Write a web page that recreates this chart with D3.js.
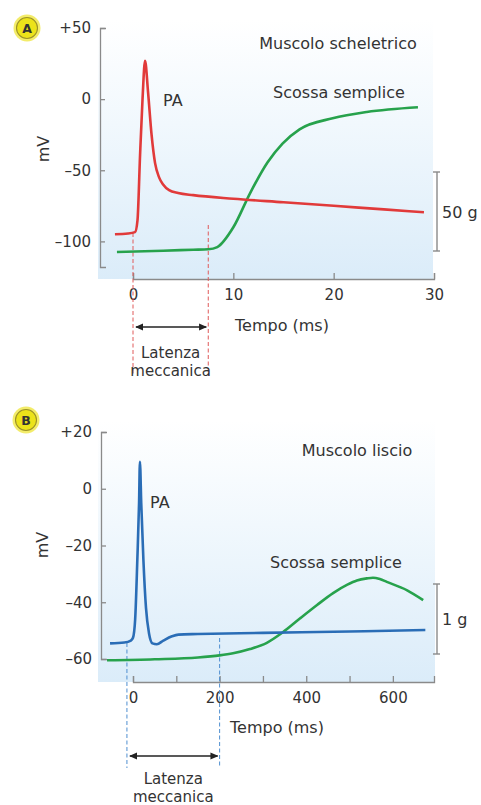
<!DOCTYPE html>
<html><head><meta charset="utf-8">
<script src="https://cdn.jsdelivr.net/npm/d3@7/dist/d3.min.js"></script>
<style>
html,body{margin:0;padding:0;background:#fff;}
svg{display:block;}
text{font-family:"DejaVu Sans",sans-serif;fill:#333;}
</style></head>
<body>
<svg id="chart" width="481" height="805"></svg>
<script>
// ---------- DATA ----------
// Panel A: skeletal muscle (time in ms, potential in mV, force in g)
const apA_time = [-1.8, -0.5, 0.2, 0.45, 0.7, 0.95, 1.2, 1.5, 1.85, 2.2, 2.6, 3.0, 3.6, 4.5, 6, 10, 15, 20, 25, 29];
const apA_mV   = [-95, -94.5, -93.5, -85, -40, 0, 27, 5, -25, -45, -55, -60, -64, -66, -67.5, -70, -72.5, -75, -77.5, -79.5];
const twA_time = [-1.6, 3, 6, 7.5, 8.4, 10.0, 11.7, 13.4, 14.9, 16.6, 19.9, 23.3, 28.4];
const twA_g    = [-0.6, 0.2, 0.8, 1.1, 2.5, 15, 37, 56, 68, 77, 84, 88, 91];
const xTicksA = [0, 10, 20, 30];
const yTicksA = [50, 0, -50, -100];
const latencyA = [0, 7.5];
const scaleBarA = [0, 50];

// Panel B: smooth muscle
const apB_time = [-53, -20, -5, 0, 5, 10, 14, 16, 19, 24, 30, 37, 45, 55, 70, 90, 105, 150, 300, 500, 675];
const apB_mV   = [-54.5, -54.2, -53.5, -52.5, -46, -25, -5, 9.5, -5, -25, -42, -51, -54.5, -54.8, -53.5, -52, -51.4, -51.2, -50.8, -50.3, -49.8];
const twB_time = [-60, 50, 150, 200, 231, 270, 309, 346, 386, 425, 462, 495, 517, 540, 554, 570, 586, 633, 670];
const twB_g    = [-0.09, -0.075, -0.05, -0.02, 0.01, 0.07, 0.16, 0.31, 0.51, 0.70, 0.87, 0.99, 1.05, 1.08, 1.09, 1.07, 1.03, 0.91, 0.77];
const xTicksB = [0, 100, 200, 300, 400, 500, 600];
const yTicksB = [20, 0, -20, -40, -60];
const latencyB = [-14, 200];
const scaleBarB = [0, 1];

// ---------- DRAW ----------
const svg = d3.select("#chart");
const defs = svg.append("defs");
const grad = defs.append("linearGradient").attr("id","bg").attr("x1",0).attr("x2",0).attr("y1",0).attr("y2",1);
grad.append("stop").attr("offset","0%").attr("stop-color","#ffffff");
grad.append("stop").attr("offset","40%").attr("stop-color","#f1f8fd");
grad.append("stop").attr("offset","100%").attr("stop-color","#dbecf9");
defs.append("marker").attr("id","arrow").attr("viewBox","0 0 10 10").attr("refX",9).attr("refY",5)
  .attr("markerWidth",5).attr("markerHeight",5).attr("orient","auto-start-reverse")
  .append("path").attr("d","M0,0.5 L10,5 L0,9.5 Z").attr("fill","#222");

const fmtMV = d => d > 0 ? "+" + d : (d < 0 ? "\u2013" + Math.abs(d) : "0");

function panel(cfg){
  const g = svg.append("g");
  const x = d3.scaleLinear().domain(cfg.xDomain).range(cfg.xRange);
  const y = d3.scaleLinear().domain(cfg.yDomain).range(cfg.yRange);
  const f = d3.scaleLinear().domain(cfg.scaleBar).range(cfg.fRange);

  // background
  g.append("rect").attr("x", cfg.bg[0]).attr("y", cfg.bg[1]).attr("width", cfg.bg[2]-cfg.bg[0])
    .attr("height", cfg.bg[3]-cfg.bg[1]).attr("fill","url(#bg)");

  // axes
  const xa = d3.axisBottom(x).tickValues(cfg.xTicks).tickSizeInner(-6).tickSizeOuter(-6).tickPadding(10)
    .tickFormat(cfg.xFmt);
  const gx = g.append("g").attr("transform",`translate(0,${cfg.xAxisY})`).call(xa);
  const ya = d3.axisLeft(y).tickValues(cfg.yTicks).tickSizeInner(-5).tickSizeOuter(-6).tickPadding(9).tickFormat(fmtMV);
  const gy = g.append("g").attr("transform",`translate(${cfg.yAxisX},0)`).call(ya);
  [gx, gy].forEach(a => {
    a.select(".domain").attr("stroke","#8a8a8a").attr("stroke-width",1.3);
    a.selectAll(".tick line").attr("stroke","#8a8a8a").attr("stroke-width",1.3);
    a.selectAll(".tick text").attr("font-size",15).attr("fill","#333").attr("font-family","DejaVu Sans, sans-serif");
  });

  // latency dashed lines
  cfg.latency.forEach((t,i) => {
    g.append("line").attr("x1",x(t)).attr("x2",x(t)).attr("y1",cfg.dashTop[i]).attr("y2",cfg.dashBottom)
      .attr("stroke",cfg.dashColor).attr("stroke-width",1).attr("stroke-dasharray","4,2.5");
  });
  g.append("line").attr("x1",x(cfg.latency[0])+3).attr("x2",x(cfg.latency[1])-2)
    .attr("y1",cfg.arrowY).attr("y2",cfg.arrowY).attr("stroke","#222").attr("stroke-width",1.6)
    .attr("marker-start","url(#arrow)").attr("marker-end","url(#arrow)");
  const lc = (x(cfg.latency[0])+x(cfg.latency[1]))/2;
  g.append("text").attr("x",lc).attr("y",cfg.latY[0]).attr("text-anchor","middle").attr("font-size",15).text("Latenza");
  g.append("text").attr("x",lc).attr("y",cfg.latY[1]).attr("text-anchor","middle").attr("font-size",15).text("meccanica");

  // scale bar
  const sx = cfg.scaleX;
  g.append("line").attr("x1",sx).attr("x2",sx).attr("y1",f(cfg.scaleBar[0])).attr("y2",f(cfg.scaleBar[1]))
    .attr("stroke","#8a8a8a").attr("stroke-width",1.4);
  cfg.scaleBar.forEach(v => g.append("line").attr("x1",sx-4).attr("x2",sx+3).attr("y1",f(v)).attr("y2",f(v))
    .attr("stroke","#8a8a8a").attr("stroke-width",1.4));
  g.append("text").attr("x",sx+5).attr("y",(f(cfg.scaleBar[0])+f(cfg.scaleBar[1]))/2+6)
    .attr("font-size",16).text(cfg.scaleLabel);

  // curves
  const lineAP = d3.line().x(d=>x(d[0])).y(d=>y(d[1])).curve(d3.curveMonotoneX);
  const lineTw = d3.line().x(d=>x(d[0])).y(d=>f(d[1])).curve(d3.curveMonotoneX);
  g.append("path").datum(d3.zip(cfg.twT, cfg.twV)).attr("d", lineTw).attr("fill","none")
    .attr("stroke","#27a24c").attr("stroke-width",2.6).attr("stroke-linejoin","round");
  g.append("path").datum(d3.zip(cfg.apT, cfg.apV)).attr("d", lineAP).attr("fill","none")
    .attr("stroke",cfg.apColor).attr("stroke-width",2.6).attr("stroke-linejoin","round");

  // labels
  cfg.labels.forEach(l => g.append("text").attr("x",l[0]).attr("y",l[1]).attr("text-anchor",l[3]||"start")
    .attr("font-size",16).text(l[2]));
  g.append("text").attr("transform",`translate(${cfg.mv[0]},${cfg.mv[1]}) rotate(-90)`).attr("text-anchor","middle")
    .attr("font-size",16).text("mV");

  // badge
  g.append("circle").attr("cx",cfg.badge[0]).attr("cy",cfg.badge[1]).attr("r",13.5).attr("fill","#f3ec6a");
  g.append("circle").attr("cx",cfg.badge[0]).attr("cy",cfg.badge[1]).attr("r",10.5)
    .attr("fill","#ece31a").attr("stroke","#9c9228").attr("stroke-width",1.1);
  g.append("text").attr("x",cfg.badge[0]).attr("y",cfg.badge[1]+4.5).attr("text-anchor","middle")
    .attr("font-size",12.5).attr("font-weight","bold").attr("fill","#3a3820").text(cfg.badge[2]);
}

panel({
  xDomain:[0,30], xRange:[133,434], yDomain:[-118,50], yRange:[267,28],
  scaleBar: scaleBarA, fRange:[251,172],
  bg:[98,20,433,279], xAxisY:279, yAxisX:100,
  xTicks:xTicksA, xFmt:d=>d, yTicks:yTicksA,
  latency:latencyA, dashTop:[233,225], dashBottom:376, dashColor:"#e05a5a",
  arrowY:327, latY:[358,376],
  scaleX:437, scaleLabel:"50 g",
  apT:apA_time, apV:apA_mV, twT:twA_time, twV:twA_g, apColor:"#e13a3a",
  labels:[[338,49,"Muscolo scheletrico","middle"],[339,98,"Scossa semplice","middle"],[163,106,"PA"],[235,331,"Tempo (ms)"]],
  mv:[49,149], badge:[27,28,"A"]
});

panel({
  xDomain:[0,695], xRange:[133,434], yDomain:[-60,20], yRange:[659,432],
  scaleBar: scaleBarB, fRange:[654,584],
  bg:[98,420,435,682], xAxisY:682, yAxisX:101,
  xTicks:xTicksB, xFmt:d=>(d%200===0?d:""), yTicks:yTicksB,
  latency:latencyB, dashTop:[643,638], dashBottom:768, dashColor:"#4f8fd0",
  arrowY:756, latY:[784,802],
  scaleX:437, scaleLabel:"1 g",
  apT:apB_time, apV:apB_mV, twT:twB_time, twV:twB_g, apColor:"#2a6db6",
  labels:[[357,456,"Muscolo liscio","middle"],[336,568,"Scossa semplice","middle"],[150,508,"PA"],[230,733,"Tempo (ms)"]],
  mv:[48,545], badge:[26,420,"B"]
});
</script>
</body></html>
